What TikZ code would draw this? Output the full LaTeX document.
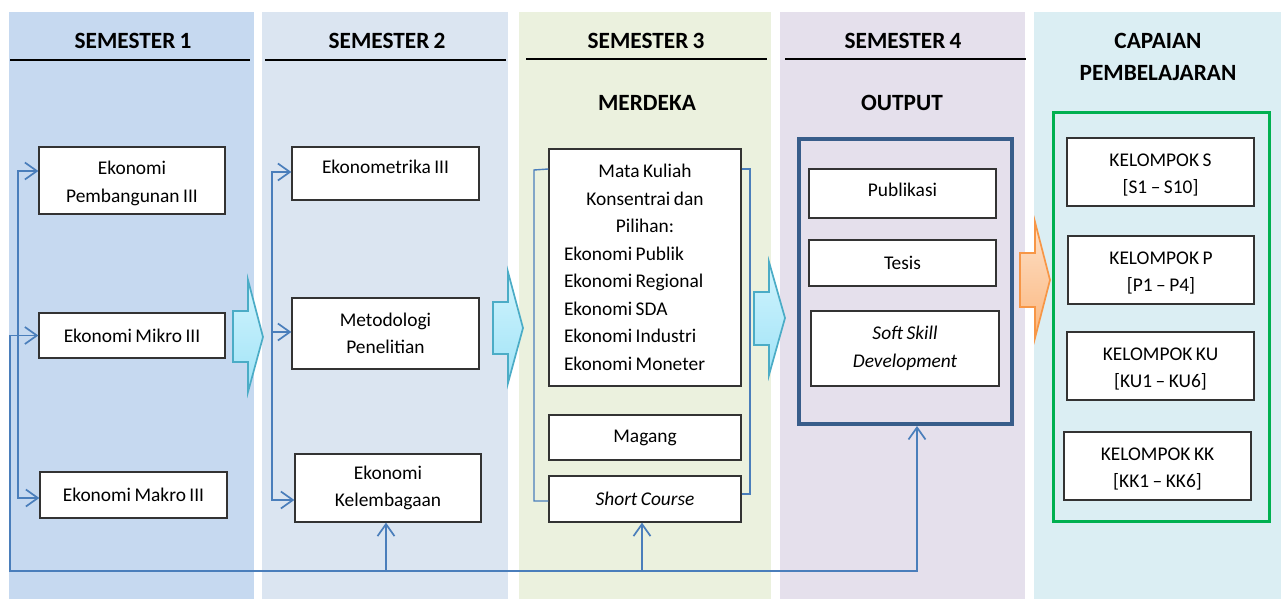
\documentclass[tikz,border=0pt]{standalone}
\usepackage{fontspec}
\setmainfont{Carlito}[WordSpace=0.8]
\usetikzlibrary{arrows.meta}
\definecolor{colA}{HTML}{C6D9F0}
\definecolor{colB}{HTML}{DBE5F1}
\definecolor{colC}{HTML}{EBF1DE}
\definecolor{colD}{HTML}{E5E0EC}
\definecolor{colE}{HTML}{DBEEF3}
\definecolor{connc}{HTML}{4A7EBB}
\definecolor{outc}{HTML}{385D8A}
\definecolor{greenc}{HTML}{00B050}
\definecolor{cyanT}{HTML}{D2F4FD}
\definecolor{cyanB}{HTML}{9FE3F7}
\definecolor{cyanD}{HTML}{4BACC6}
\definecolor{orT}{HTML}{FDE0C8}
\definecolor{orB}{HTML}{FBB77E}
\definecolor{orD}{HTML}{F79646}
\newcommand\bodyfont{\fontsize{19.4}{27.5}\selectfont}
\newcommand\headfont{\fontsize{23.3}{32}\selectfont\bfseries}
\tikzset{
  box/.style={draw=black!80, fill=white, line width=1.3pt, align=flush center, font=\bodyfont, inner sep=0pt},
  head/.style={font=\headfont, inner sep=0pt, align=center},
  hline/.style={draw=black, line width=2pt},
  conn/.style={draw=connc, line width=1.7pt},
  barb/.tip={Straight Barb[length=12pt,width=17pt]},
  blockc/.style={draw=cyanD, line width=1.7pt, top color=cyanT, bottom color=cyanB, line join=miter},
  blocko/.style={draw=orD, line width=1.7pt, top color=orT, bottom color=orB, line join=miter},
}
\begin{document}
\begin{tikzpicture}[x=1pt,y=-1pt]
\useasboundingbox[fill=white] (0,0) rectangle (1282,599);
% column backgrounds
\fill[colA] (9,12) rectangle (254,599);
\fill[colB] (262,12) rectangle (508,599);
\fill[colC] (519,12) rectangle (771,599);
\fill[colD] (780,12) rectangle (1025,599);
\fill[colE] (1034,12) rectangle (1281,599);
% headers
\node[head] (h1) at (133,41) {SEMESTER 1};
\node[head] (h2) at (387,41) {SEMESTER 2};
\node[head] (h3) at (646,41) {SEMESTER 3};
\node[head] (h4) at (903,41) {SEMESTER 4};
\node[head] (h5) at (1158,57) {CAPAIAN\\PEMBELAJARAN};
\node[head] (merdeka) at (647,103) {MERDEKA};
\node[head] (output) at (902,103) {OUTPUT};
\draw[hline] (10,60) -- (250,60);
\draw[hline] (265,60) -- (506,60);
\draw[hline] (526,59.5) -- (767,59.5);
\draw[hline] (785,59.5) -- (1026,59.5);
% frames
\node[draw=outc, line width=4pt, minimum width=213pt, minimum height=285pt, inner sep=0pt] (outbox) at (905.5,281.5) {};
\node[draw=greenc, line width=3pt, minimum width=216pt, minimum height=408pt, inner sep=0pt] (green) at (1161,317) {};
% semester 1
\node[box, minimum width=186pt, minimum height=67pt] (pemb) at (132,180.5) {\rule{0pt}{19.5pt}Ekonomi\\Pembangunan III};
\node[box, minimum width=186pt, minimum height=45pt] (mikro) at (132,335.5) {Ekonomi Mikro III};
\node[box, minimum width=187pt, minimum height=46pt] (makro) at (133.5,495) {Ekonomi Makro III};
% semester 2
\node[box, minimum width=187pt, minimum height=53pt, text depth=14pt] (ekmt) at (385.5,173.5) {Ekonometrika III};
\node[box, minimum width=187pt, minimum height=71pt] (met) at (385.5,333.5) {Metodologi\\Penelitian};
\node[box, minimum width=186pt, minimum height=68pt] (kel) at (388,488) {Ekonomi\\Kelembagaan};
% semester 3
\node[box, minimum width=192pt, minimum height=237pt, text width=162pt, align=flush left] (mk) at (645,267.5)
  {\makebox[162pt]{Mata Kuliah}\\\makebox[162pt]{Konsentrai dan}\\\makebox[162pt]{Pilihan:}\\Ekonomi Publik\\Ekonomi Regional\\Ekonomi SDA\\Ekonomi Industri\\Ekonomi Moneter};
\node[box, minimum width=192pt, minimum height=45pt] (mag) at (645,437.5) {Magang};
\node[box, minimum width=192pt, minimum height=46pt] (sc) at (645,499) {\itshape Short Course};
% semester 4
\node[box, minimum width=187pt, minimum height=49pt, text depth=8pt] (pub) at (902.5,193.5) {Publikasi};
\node[box, minimum width=187pt, minimum height=46pt] (tes) at (902.5,263) {Tesis};
\node[box, minimum width=188pt, minimum height=75pt] (soft) at (905,348.5) {\itshape Soft Skill\\\itshape Development};
% capaian
\node[box, minimum width=187pt, minimum height=68pt] (ks) at (1160.5,172) {\rule{0pt}{18.5pt}KELOMPOK S\\{[S1 – S10]}};
\node[box, minimum width=186pt, minimum height=68pt] (kp) at (1161,270) {\rule{0pt}{18.5pt}KELOMPOK P\\{[P1 – P4]}};
\node[box, minimum width=187pt, minimum height=68pt] (ku) at (1160.5,366) {\rule{0pt}{18.5pt}KELOMPOK KU\\{[KU1 – KU6]}};
\node[box, minimum width=187pt, minimum height=68pt] (kk) at (1157.5,466) {\rule{0pt}{18.5pt}KELOMPOK KK\\{[KK1 – KK6]}};
% connectors
\coordinate (a1) at (18,171);
\coordinate (a2) at (18,498);
\draw[conn, barb-barb] (a1 -| pemb.west) -- (a1) -- (a2) -- (a2 -| makro.west);
\coordinate (c1) at (272,172);
\coordinate (c2) at (272,332);
\coordinate (c3) at (272,500);
\draw[conn, barb-barb] (c1 -| ekmt.west) -- (c1) -- (c3) -- (c3 -| kel.west);
\draw[conn, -barb] (c2) -- (c2 -| met.west);
\coordinate (l1) at (10,335.5);
\coordinate (l2) at (10,571);
\coordinate (b1) at (386,571);
\coordinate (b2) at (642,571);
\coordinate (b3) at (917,571);
\draw[conn, barb-barb] (b3 |- outbox.south) -- (b3) -- (l2) -- (l1) -- (mikro.west);
\draw[conn, -barb] (b1) -- (b1 |- kel.south);
\draw[conn, -barb] (b2) -- (b2 |- sc.south);
% brackets semester 3
\coordinate (k1) at (534,170);
\coordinate (k2) at (534,501);
\coordinate (k3) at (750,169);
\coordinate (k4) at (750,494);
\draw[conn, line width=1.4pt] (mk.west |- 0,169) -- (k1) -- (k2) -- (k2 -| sc.west);
\draw[conn, line width=1.4pt] (mk.east |- 0,169) -- (k3) -- (k4) -- (k4 -| sc.east);
% block arrows
\draw[blockc] (233,311) -- (248,311) -- (248,280) -- (263,337) -- (248,392) -- (248,362) -- (233,362) -- cycle;
\draw[blockc] (493,302) -- (508,302) -- (508,272) -- (523,328) -- (508,383) -- (508,354) -- (493,354) -- cycle;
\draw[blockc] (754,292) -- (769,292) -- (769,262) -- (785,318) -- (769,375) -- (769,345) -- (754,345) -- cycle;
\draw[blocko] (1020,253) -- (1035,253) -- (1035,222) -- (1050,280) -- (1035,338) -- (1035,307) -- (1020,307) -- cycle;
\end{tikzpicture}
\end{document}
